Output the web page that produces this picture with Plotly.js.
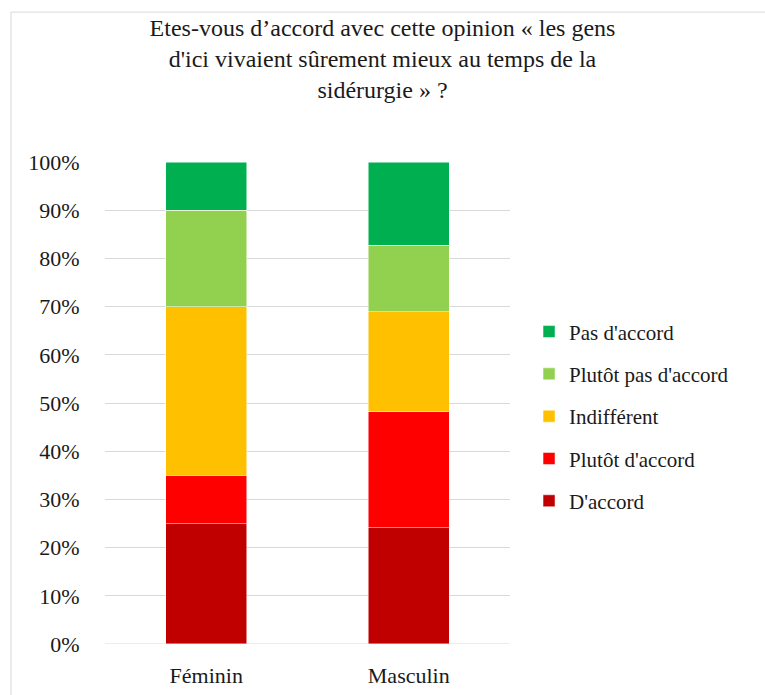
<!DOCTYPE html>
<html>
<head>
<meta charset="utf-8">
<script src="https://cdn.plot.ly/plotly-3.0.1.min.js"></script>
</head>
<body style="margin:0">
<div id="chart"></div>
<script>
var categories = ["Féminin", "Masculin"];
var seriesNames = ["D'accord", "Plutôt d'accord", "Indifférent", "Plutôt pas d'accord", "Pas d'accord"];
var dAccord = [25.0, 24.1];
var plutotDAccord = [10.0, 24.1];
var indifferent = [35.0, 20.7];
var plutotPasDAccord = [20.0, 13.8];
var pasDAccord = [10.0, 17.2];
var tickValues = [0, 10, 20, 30, 40, 50, 60, 70, 80, 90, 100];
var tickLabels = ["0%", "10%", "20%", "30%", "40%", "50%", "60%", "70%", "80%", "90%", "100%"];
var barColors = ["#C00000", "#FF0000", "#FFC000", "#92D050", "#00B050"];

var seriesValues = [dAccord, plutotDAccord, indifferent, plutotPasDAccord, pasDAccord];

var traces = seriesValues.map(function (vals, i) {
  return {
    type: "bar",
    name: seriesNames[i],
    x: categories,
    y: vals,
    legendgroup: "g" + i,
    legendrank: 1000 - i,
    marker: { color: barColors[i], line: { color: "#ffffff", width: 0.5 } }
  };
});

Plotly.newPlot("chart", traces, {
  width: 765,
  height: 695,
  barmode: "stack",
  bargap: 0.6,
  margin: { l: 105, r: 255, t: 162, b: 51 },
  font: { family: "Liberation Serif", size: 22, color: "#1a1a1a" },
  title: {
    text: "Etes-vous d’accord avec cette opinion « les gens<br>d'ici vivaient sûrement mieux au temps de la<br>sidérurgie » ?",
    font: { family: "Liberation Serif", size: 24, color: "#1a1a1a" },
    x: 0.5, xref: "container", xanchor: "center",
    y: 1 - 36 / 695, yref: "container", yanchor: "top"
  },
  xaxis: {
    type: "category",
    showgrid: false,
    showline: false,
    zeroline: false,
    ticks: "outside",
    ticklen: 12,
    tickcolor: "rgba(0,0,0,0)",
    tickfont: { family: "Liberation Serif", size: 22, color: "#1a1a1a" }
  },
  yaxis: {
    range: [0, 100],
    tickvals: tickValues,
    ticktext: tickLabels,
    showgrid: true,
    gridcolor: "#d9d9d9",
    gridwidth: 1,
    zeroline: false,
    showline: false,
    ticks: "outside",
    ticklen: 20,
    tickcolor: "rgba(0,0,0,0)",
    tickfont: { family: "Liberation Serif", size: 22, color: "#1a1a1a" }
  },
  shapes: [
    { type: "line", xref: "paper", yref: "y", x0: 0, x1: 1, y0: 0, y1: 0,
      line: { color: "#d9d9d9", width: 1 } },
    { type: "line", xref: "paper", yref: "paper", x0: -0.2321, x1: -0.2321, y0: -0.3, y1: 1.311,
      line: { color: "#d9d9d9", width: 1 } },
    { type: "line", xref: "paper", yref: "paper", x0: -0.2321, x1: 1.8, y0: 1.311, y1: 1.311,
      line: { color: "#d9d9d9", width: 1 } }
  ],
  legend: {
    traceorder: "grouped",
    tracegroupgap: 12,
    x: 1.047, xanchor: "left", xref: "paper",
    y: 0.69, yanchor: "top",
    font: { family: "Liberation Serif", size: 21, color: "#1a1a1a" },
    itemwidth: 30
  },
  showlegend: true
}, { displayModeBar: false });
</script>
</body>
</html>
